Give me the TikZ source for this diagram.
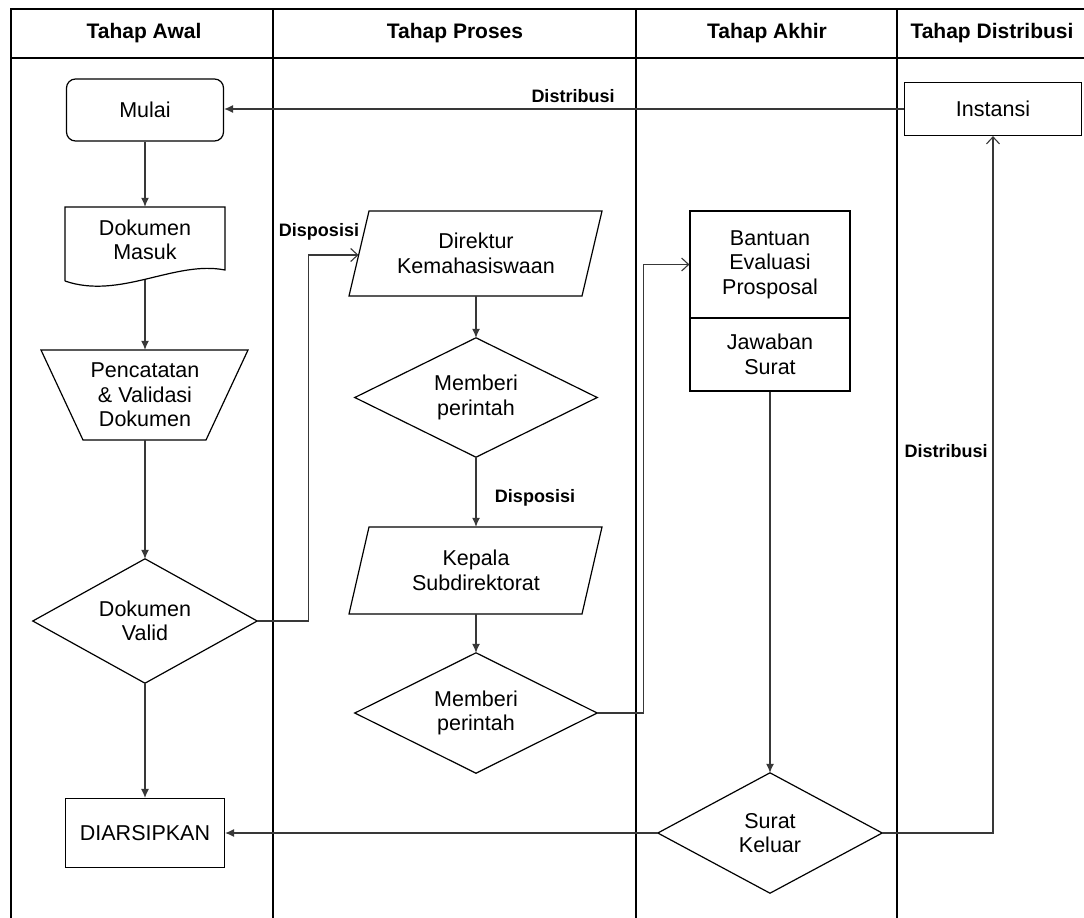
\documentclass[tikz,border=0pt]{standalone}
\usepackage{fontspec}
\setmainfont{Liberation Sans}
\usetikzlibrary{arrows.meta,calc}
\newcommand\myNodeFont{\fontsize{21.5}{24.5}\selectfont}
\begin{document}
\begin{tikzpicture}[x=1pt,y=-1pt,
  box/.style={draw=black, line width=1.2pt, align=center, font=\myNodeFont, inner sep=0pt},
  ghost/.style={draw=none, align=center, font=\myNodeFont, inner sep=0pt},
  outline/.style={draw=black, line width=1.2pt, line join=miter},
  conn/.style={draw=black!78, line width=1.1pt, -{Latex[length=9pt,width=8pt]}},
  openconn/.style={draw=black!78, line width=1.1pt, -{Straight Barb[length=7pt,width=13pt]}},
  lbl/.style={font=\bfseries\fontsize{18}{21}\selectfont, inner sep=0pt},
  hdr/.style={font=\bfseries\fontsize{21}{24}\selectfont, inner sep=0pt},
  lane/.style={draw=black, line width=1.3pt}]
\useasboundingbox (0,0) rectangle (1084,918);
\fill[white] (0,0) rectangle (1084,918);

% swimlanes
\draw[lane] (11,918) -- (11,9) -- (1084,9);
\draw[lane] (11,58) -- (1084,58);
\draw[lane] (273,9) -- (273,918);
\draw[lane] (636,9) -- (636,918);
\draw[lane] (897,9) -- (897,918);

\node[hdr] (h1) at (144,33) {Tahap Awal};
\node[hdr] (h2) at (455,33) {Tahap Proses};
\node[hdr] (h3) at (767,33) {Tahap Akhir};
\node[hdr] (h4) at (992,33) {Tahap Distribusi};

% Tahap Awal
\node[box, rounded corners=9pt, minimum width=157, minimum height=62] (mulai) at (145,110) {Mulai};

\node[ghost, minimum width=160, minimum height=66] (dm) at (145,240) {Dokumen\\Masuk};
\draw[outline] (65,281) -- (65,207) -- (225,207) -- (225,270)
  .. controls (175,260) and (120,300) .. (65,281);
\coordinate (dmb) at (145,280);

\node[ghost, minimum width=207, minimum height=90] (tz) at (145,395) {Pencatatan\\\& Validasi\\Dokumen};
\draw[outline] (41,350) -- (248,350) -- (206,440) -- (83,440) -- cycle;

\node[ghost, minimum width=224, minimum height=124] (dv) at (145,621) {Dokumen\\Valid};
\draw[outline] (dv.north) -- (dv.east) -- (dv.south) -- (dv.west) -- cycle;

\node[box, minimum width=159, minimum height=69] (diar) at (145,833) {DIARSIPKAN};

% Tahap Proses
\node[ghost, minimum width=253, minimum height=85] (dk) at (476,253.5) {Direktur\\Kemahasiswaan};
\draw[outline] (369,211) -- (602,211) -- (582,296) -- (349,296) -- cycle;
\coordinate (dkin) at (358.5,255);

\node[ghost, minimum width=242, minimum height=119] (mp1) at (476,397.5) {Memberi\\perintah};
\draw[outline] (mp1.north) -- (mp1.east) -- (mp1.south) -- (mp1.west) -- cycle;

\node[ghost, minimum width=253, minimum height=87] (kp) at (476,570.5) {Kepala\\Subdirektorat};
\draw[outline] (369,527) -- (602,527) -- (582,614) -- (349,614) -- cycle;

\node[ghost, minimum width=242, minimum height=120] (mp2) at (476,713) {Memberi\\perintah};
\draw[outline] (mp2.north) -- (mp2.east) -- (mp2.south) -- (mp2.west) -- cycle;

% Tahap Akhir
\node[box, minimum width=160, minimum height=107] (ba) at (770,264.5) {Bantuan\\Evaluasi\\Prosposal};
\node[box, minimum width=160, minimum height=73] (js) at (770,354.5) {Jawaban\\Surat};

\node[ghost, minimum width=224, minimum height=120] (sk) at (770,833) {Surat\\Keluar};
\draw[outline] (sk.north) -- (sk.east) -- (sk.south) -- (sk.west) -- cycle;

% Tahap Distribusi
\node[box, minimum width=177, minimum height=53] (ins) at (993,109) {Instansi};

% connectors
\draw[conn] (mulai) -- (dm.north);
\draw[conn] (dmb) -- (tz.north);
\draw[conn] (tz.south) -- (dv.north);
\draw[conn] (dv.south) -- (diar.north);
\draw[openconn] (dv.east) -- ++(51,0) |- (dkin);
\draw[conn] (dk.south) -- (mp1.north);
\draw[conn] (mp1.south) -- (kp.north);
\draw[conn] (kp.south) -- (mp2.north);
\draw[openconn] (mp2.east) -- ++(46,0) |- (ba.west);
\draw[conn] (js.south) -- (sk.north);
\draw[conn] (sk.west) -- (diar.east);
\draw[openconn] (sk.east) -| (ins.south);
\draw[conn] (ins.west) -- (mulai.east |- ins.west);

% labels
\node[lbl] (l1) at (573,96) {Distribusi};
\node[lbl] (l2) at (319,232) {Disposisi};
\node[lbl] (l3) at (535,498) {Disposisi};
\node[lbl] (l4) at (946,451) {Distribusi};
\end{tikzpicture}
\end{document}
